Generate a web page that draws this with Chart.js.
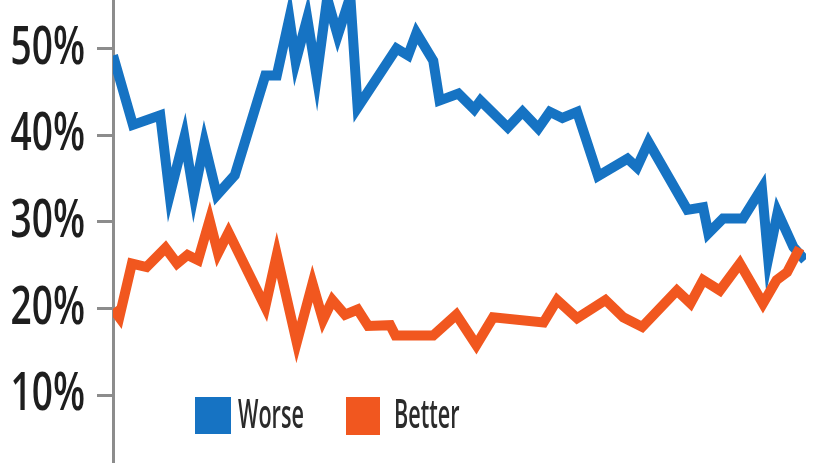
<!DOCTYPE html>
<html>
<head>
<meta charset="utf-8">
<script src="https://cdn.jsdelivr.net/npm/chart.js@4"></script>
<style>
  html, body { margin: 0; padding: 0; background: #fff; }
  #wrap { width: 824px; height: 463px; }
</style>
</head>
<body>
<div id="wrap"><canvas id="myChart"></canvas></div>
<script>
  // poll number (x) and share of respondents (%)
  const worseX = [0, 1.9, 4.5, 5.4, 6.8, 7.7, 8.7, 9.9, 11.6, 14.5, 15.6, 16.8, 17.4, 18.5, 19.4, 20.4, 21.4, 22.6, 23.3,
    27.0, 28.1, 28.9, 30.5, 31.1, 32.9, 34.4, 35.0, 37.6, 39.0, 40.5, 41.6, 42.8, 44.2, 46.2, 49.0, 49.9, 51.0,
    54.7, 56.2, 56.7, 58.1, 60.0, 61.8, 62.4, 63.3, 64.8, 65.9];
  const worseValues = [49.2, 41.2, 42.3, 33.1, 39.8, 33.1, 39.1, 33.1, 35.4, 46.9, 46.9, 53.5, 48.5, 53.5, 46.7, 55.8, 51.5, 56.0, 43.2,
    50.0, 49.2, 51.8, 48.6, 44.0, 44.8, 43.0, 44.0, 40.9, 42.7, 40.8, 42.7, 42.0, 42.7, 35.3, 37.3, 36.3, 39.2,
    31.4, 31.7, 28.7, 30.4, 30.4, 33.9, 25.8, 31.1, 27.1, 25.6];

  const betterX = [0, 0.6, 1.8, 3.2, 5.0, 6.1, 7.1, 8.1, 9.2, 10.0, 11.0, 14.5, 15.6, 17.5, 19.0, 20.0, 20.9, 22.1,
    23.3, 24.3, 26.4, 26.9, 30.5, 32.7, 34.6, 36.2, 41.0, 42.3, 44.2, 46.9, 48.6, 50.4, 53.7, 55.0, 56.2, 57.8,
    59.7, 61.9, 63.2, 64.2, 65.4];
  const betterValues = [20.0, 19.0, 25.2, 24.8, 27.0, 25.2, 26.2, 25.6, 30.2, 26.4, 28.8, 20.2, 26.2, 16.1, 22.9, 18.7, 21.0, 19.3,
    19.9, 18.0, 18.1, 16.9, 16.9, 19.3, 15.8, 19.0, 18.4, 21.0, 18.9, 21.0, 19.0, 17.9, 22.1, 20.6, 23.3, 22.1,
    25.2, 20.6, 23.3, 24.2, 27.0];

  const yTicks = [10, 20, 30, 40, 50];
  const seriesNames = ['Worse', 'Better'];
  const blue = '#1673c3';
  const orange = '#f1571f';

  const toPoints = (xs, ys) => xs.map((x, i) => ({ x: x, y: ys[i] }));

  // squeeze the tick labels horizontally, like the condensed face of the original
  const squeezeY = {
    id: 'squeezeY',
    beforeDraw(chart) {
      const s = chart.scales.y;
      if (s._squeezed) return;
      const orig = s.drawLabels;
      s.drawLabels = function (area) {
        const ctx = this.ctx;
        const ax = this.right - 16 - 12;
        const left = this.left;
        this.left = -300; // label clip box, widened for the squeezed space
        ctx.save();
        ctx.translate(ax, 0);
        ctx.scale(0.7, 1);
        ctx.translate(-ax, 0);
        orig.call(this, area);
        ctx.restore();
        this.left = left;
      };
      s._squeezed = true;
    }
  };

  // legend boxes inside the plot, bottom left
  const boxLegend = {
    id: 'boxLegend',
    afterDraw(chart, args, opts) {
      const ctx = chart.ctx;
      ctx.save();
      opts.items.forEach((it) => {
        const ds = chart.data.datasets[it.index];
        ctx.fillStyle = ds.borderColor;
        ctx.fillRect(it.box[0], it.box[1], it.box[2], it.box[3]);
        ctx.save();
        ctx.translate(it.text[0], it.text[1]);
        ctx.scale(0.54, 1);
        ctx.fillStyle = '#2b2b2b';
        ctx.font = '600 40px "Open Sans", sans-serif';
        ctx.textBaseline = 'alphabetic';
        ctx.fillText(ds.label, 0, 0);
        ctx.restore();
      });
      ctx.restore();
    }
  };

  const data = {
    datasets: [{
      label: seriesNames[0],
      data: toPoints(worseX, worseValues),
      borderColor: blue,
      backgroundColor: blue,
      borderWidth: 10,
      order: 1
    }, {
      label: seriesNames[1],
      data: toPoints(betterX, betterValues),
      borderColor: orange,
      backgroundColor: orange,
      borderWidth: 10,
      order: 0
    }]
  };

  const config = {
    type: 'line',
    data: data,
    options: {
      responsive: true,
      maintainAspectRatio: false,
      animation: false,
      layout: { padding: { left: 0, right: 18, top: 0, bottom: 0 } },
      elements: {
        point: { radius: 0 },
        line: { tension: 0, borderJoinStyle: 'miter', borderCapStyle: 'butt' }
      },
      plugins: {
        legend: { display: false },
        tooltip: { enabled: false },
        boxLegend: {
          items: [
            { index: 0, box: [195, 397, 36, 37], text: [238, 428] },
            { index: 1, box: [346, 397, 34, 38], text: [394, 428] }
          ]
        }
      },
      scales: {
        x: {
          type: 'linear',
          min: 0,
          max: 66,
          display: false
        },
        y: {
          min: 2.2,
          max: 55.6,
          afterFit: (s) => {
            s.width = 113;
            s.paddingTop = 0;
            s.paddingBottom = 0;
          },
          afterBuildTicks: (s) => { s.ticks = yTicks.map(v => ({ value: v })); },
          grid: {
            drawOnChartArea: false,
            drawTicks: true,
            tickLength: 16,
            tickWidth: 3,
            tickColor: '#8c8c8c'
          },
          border: { display: true, color: '#8c8c8c', width: 3 },
          ticks: {
            padding: 12,
            color: '#1e1e1e',
            font: { family: '"Open Sans", sans-serif', size: 53, weight: '600' },
            callback: (v) => v + '%'
          }
        }
      }
    },
    plugins: [squeezeY, boxLegend]
  };

  const myChart = new Chart(document.getElementById('myChart'), config);
</script>
</body>
</html>
